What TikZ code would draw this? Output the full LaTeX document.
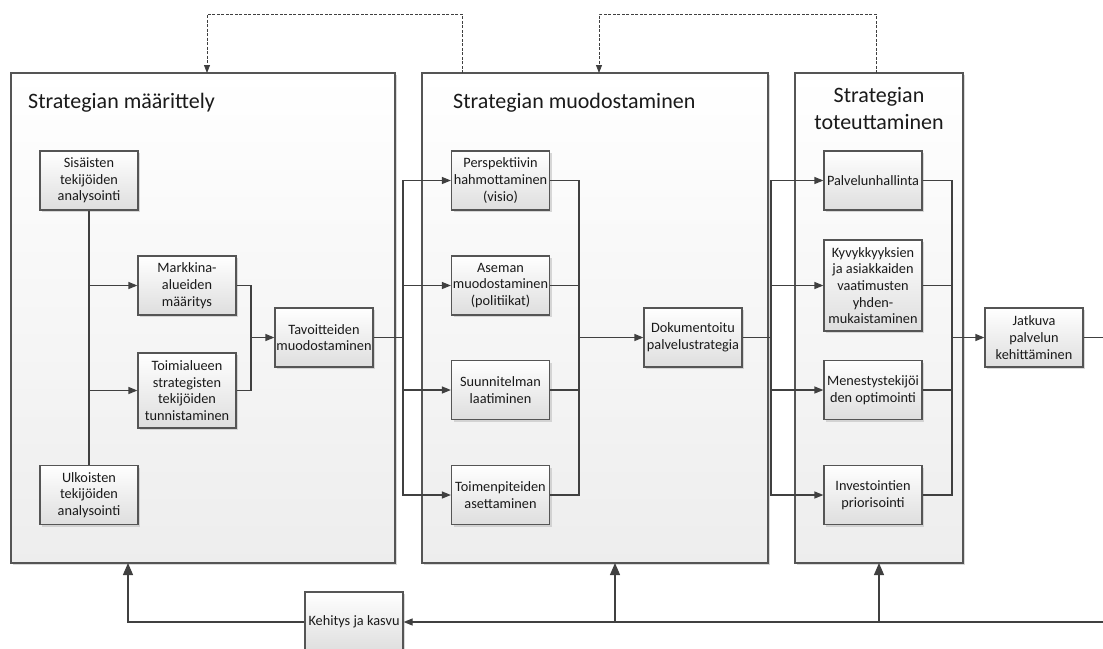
\documentclass[tikz,border=0pt]{standalone}
\usepackage{fontspec}
\setmainfont{Carlito}
\usetikzlibrary{arrows.meta,shadows}
\definecolor{linec}{HTML}{404040}
\definecolor{framec}{HTML}{555555}
\definecolor{txtc}{HTML}{1a1a1a}
\begin{document}
\begin{tikzpicture}[x=1pt,y=-1pt,
  every node/.style={text=txtc},
  phase/.style={draw=framec,line width=1.6pt,top color=white,bottom color=black!7,
    drop shadow={shadow xshift=2pt,shadow yshift=-2pt,fill=black!25,opacity=0.6}},
  task/.style={draw=framec,line width=1.2pt,top color=white,bottom color=black!13,
    minimum width=98pt,minimum height=59pt,align=center,inner sep=1pt,
    font=\fontsize{14.3}{16.7}\selectfont,
    drop shadow={shadow xshift=2pt,shadow yshift=-2pt,fill=black!25,opacity=0.6}},
  title/.style={font=\fontsize{22}{27}\selectfont,inner sep=0pt,align=center},
  conn/.style={draw=linec,line width=1.2pt},
  arr/.style={conn,-{Triangle[length=9pt,width=7pt]}},
  bigarr/.style={conn,-{Triangle[length=12pt,width=10pt]}},
  fb/.style={draw=linec,line width=0.8pt,dashed,dash pattern=on 3pt off 1.5pt,
    -{Triangle[length=8pt,width=6pt]}}]
\useasboundingbox (0,0) rectangle (1103,648);

% phase frames
\path[phase] (11,73) rectangle (395,563);
\path[phase] (422,73) rectangle (768,563);
\path[phase] (795,73) rectangle (963,563);
\coordinate (c1s) at (128,563); \coordinate (c1n) at (207,73);
\coordinate (c2s) at (615,563); \coordinate (c2n) at (599,73); \coordinate (c2o) at (462,73);
\coordinate (c3s) at (879,563); \coordinate (c3o) at (876,73);

\node[title,anchor=west] (h1) at (28,103) {Strategian määrittely};
\node[title,anchor=west] (h2) at (453,103) {Strategian muodostaminen};
\node[title] (h3) at (879,109) {Strategian\\toteuttaminen};

% definition phase
\node[task] (s1) at (89,180.5) {Sisäisten\\tekijöiden\\analysointi};
\node[task] (s2) at (187,285.5) {Markkina-\\alueiden\\määritys};
\node[task,minimum height=75pt] (s3) at (187,390.5) {Toimialueen\\strategisten\\tekijöiden\\tunnistaminen};
\node[task] (s4) at (89,495) {Ulkoisten\\tekijöiden\\analysointi};
\node[task] (s5) at (324,337.5) {Tavoitteiden\\muodostaminen};

% formulation phase
\node[task] (m1) at (500.5,180.5) {Perspektiivin\\hahmottaminen\\(visio)};
\node[task] (m2) at (500.5,285.5) {Aseman\\muodostaminen\\(politiikat)};
\node[task] (m3) at (500.5,390) {Suunnitelman\\laatiminen};
\node[task] (m4) at (500.5,495) {Toimenpiteiden\\asettaminen};
\node[task] (m5) at (693,337.5) {Dokumentoitu\\palvelustrategia};

% implementation phase
\node[task] (t1) at (873,180.5) {Palvelunhallinta};
\node[task,minimum height=91pt] (t2) at (873,285.5) {Kyvykkyyksien\\ja asiakkaiden\\vaatimusten\\yhden-\\mukaistaminen};
\node[task] (t3) at (873,390) {Menestystekijöi\\den optimointi};
\node[task] (t4) at (873,495) {Investointien\\priorisointi};
\node[task] (t5) at (1034,337.5) {Jatkuva\\palvelun\\kehittäminen};

\node[task,minimum height=60pt] (k) at (354,622) {Kehitys ja kasvu};

% junction points
\coordinate (j1) at (251,337.5);
\coordinate (f1) at (403,337.5);
\coordinate (j2) at (579,337.5);
\coordinate (f2) at (771,337.5);
\coordinate (j3) at (952,337.5);
\coordinate (e1) at (1103,337.5);
\coordinate (e2) at (1103,622);
\coordinate (b1) at (128,622);
\coordinate (b2) at (615,622);
\coordinate (b3) at (879,622);
\coordinate (d1) at (462,14); \coordinate (d2) at (207,14);
\coordinate (d3) at (876,14); \coordinate (d4) at (599,14);

% definition phase flow
\draw[conn] (s1.south) -- (s4.north);
\draw[arr] (s1.south |- s2.west) -- (s2.west);
\draw[arr] (s1.south |- s3.west) -- (s3.west);
\draw[conn] (s2.east) -| (j1) |- (s3.east);
\draw[arr] (j1) -- (s5.west);

% into formulation
\draw[conn] (s5.east) -- (f1);
\foreach \n in {m1,m2,m3,m4} \draw[arr] (f1) |- (\n.west);
\foreach \n in {m1,m2,m3,m4} \draw[conn] (\n.east) -| (j2);
\draw[arr] (j2) -- (m5.west);

% into implementation
\draw[conn] (m5.east) -- (f2);
\foreach \n in {t1,t2,t3,t4} \draw[arr] (f2) |- (\n.west);
\foreach \n in {t1,t2,t3,t4} \draw[conn] (\n.east) -| (j3);
\draw[arr] (j3) -- (t5.west);
\draw[conn] (t5.east) -- (e1);

% growth loop along the bottom
\draw[arr] (e2) -- (k.east);
\draw[bigarr] (b3) -- (c3s);
\draw[bigarr] (b2) -- (c2s);
\draw[bigarr] (k.west) -- (b1) -- (c1s);

% feedback along the top
\draw[fb] (c2o) -- (d1) -- (d2) -- (c1n);
\draw[fb] (c3o) -- (d3) -- (d4) -- (c2n);
\end{tikzpicture}
\end{document}
